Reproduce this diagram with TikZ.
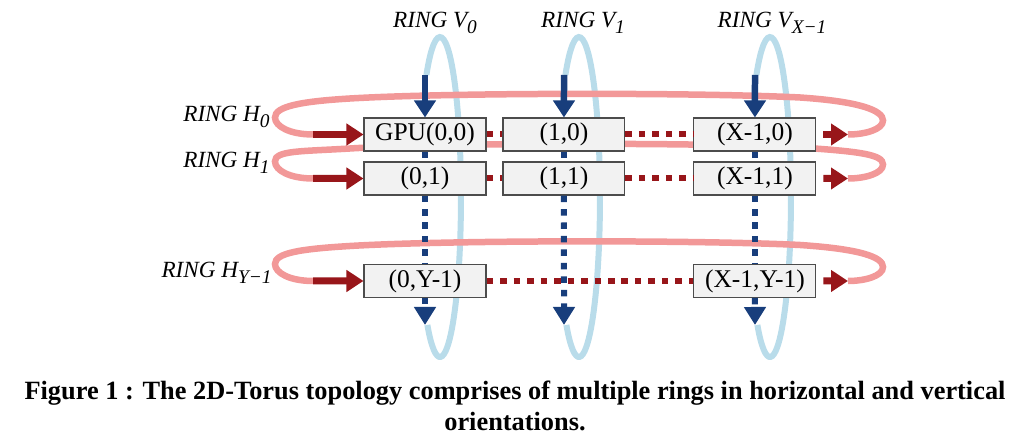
\documentclass[tikz,border=0pt]{standalone}
\usepackage{fontspec}
\setmainfont{Liberation Serif}
\usetikzlibrary{arrows.meta}
\definecolor{ringpink}{RGB}{242,152,152}
\definecolor{arrowred}{RGB}{152,22,26}
\definecolor{ringblue}{RGB}{185,220,234}
\definecolor{arrowblue}{RGB}{24,62,124}
\definecolor{boxgray}{RGB}{242,242,242}
\tikzstyle{gpubox} = [rectangle, minimum width=2.44cm, minimum height=0.66cm, inner sep=0pt, text centered, draw=black!70, line width=0.6pt, fill=boxgray, font=\fontsize{14.5}{17}\selectfont]
\tikzstyle{ringlabel} = [inner sep=0pt, font=\fontsize{13.2}{15}\selectfont\itshape]
\tikzstyle{hring} = [line width=0.13cm, draw=ringpink]
\tikzstyle{vring} = [line width=0.12cm, draw=ringblue]
\tikzstyle{redarrow} = [line width=0.14cm, arrowred, -{Triangle[length=0.34cm, width=0.42cm]}]
\tikzstyle{bluearrow} = [line width=0.13cm, arrowblue, -{Triangle[length=0.34cm, width=0.42cm]}]
\tikzstyle{reddots} = [line width=0.12cm, arrowred, dash pattern=on 0.13cm off 0.14cm]
\tikzstyle{bluedots} = [line width=0.12cm, arrowblue, dash pattern=on 0.13cm off 0.14cm]
\newcommand{\ringname}[2]{RING #1\raisebox{-3.2pt}{\fontsize{11}{13}\selectfont #2}}
% pink ring round one row: row height, height of its top
\newcommand{\hringdraw}[2]{\draw[hring] (313,#1) .. controls (290,#1) and (275,#1+8) .. (275,#1+17) .. controls (275,#1+28) and (300,#1+#2-9) .. (350,#1+#2-6) .. controls (450,#1+#2) and (700,#1+#2) .. (800,#1+#2-5) .. controls (860,#1+#2-9) and (883,#1+24) .. (883,#1+14) .. controls (883,#1+5) and (865,#1) .. (848,#1);}
% blue ring round one column
\newcommand{\vringdraw}[1]{\draw[vring] (#1+1.4,373) arc[start angle=130.3, end angle=-126.9, x radius=21, y radius=160];}
\begin{document}
\begin{tikzpicture}[x=0.02cm, y=0.02cm, node distance=2.78cm]
\useasboundingbox (0,0) rectangle (1024,448);

% rings
\vringdraw{425}
\vringdraw{564}
\vringdraw{755}
\hringdraw{313.5}{42}
\hringdraw{269.5}{36}
\hringdraw{167}{41}

% GPUs
\node (g00) [gpubox] at (425,313.5) {GPU(0,0)};
\node (g10) [gpubox, right of=g00] {(1,0)};
\node (g20) [gpubox, right of=g10, xshift=1.04cm] {(X-1,0)};
\node (g01) [gpubox, below of=g00, yshift=1.9cm] {(0,1)};
\node (g11) [gpubox, below of=g10, yshift=1.9cm] {(1,1)};
\node (g21) [gpubox, below of=g20, yshift=1.9cm] {(X-1,1)};
\node (g0y) [gpubox, below of=g00, yshift=-0.15cm] {(0,Y-1)};
\node (g2y) [gpubox, below of=g20, yshift=-0.15cm] {(X-1,Y-1)};

\coordinate (h0in) at (313,313.5); \coordinate (h0out) at (848,313.5);
\coordinate (h1in) at (313,269.5); \coordinate (h1out) at (848,269.5);
\coordinate (hyin) at (313,167);   \coordinate (hyout) at (848,167);
\coordinate (v0in) at (425,373);   \coordinate (v0out) at (425,123);
\coordinate (v1in) at (564,373);   \coordinate (v1out) at (564,123);
\coordinate (v2in) at (755,373);   \coordinate (v2out) at (755,123);

% labels
\node (lv0) [ringlabel] at (435,425) {\ringname{V}{0}};
\node (lv1) [ringlabel] at (583,425) {\ringname{V}{1}};
\node (lv2) [ringlabel] at (772,425) {\ringname{V}{X−1}};
\node (lh0) [ringlabel, anchor=east] at (270,331) {\ringname{H}{0}};
\node (lh1) [ringlabel, anchor=east] at (270,285) {\ringname{H}{1}};
\node (lhy) [ringlabel, anchor=east] at (272,175) {\ringname{H}{Y−1}};

% horizontal links
\draw [redarrow] (h0in) -- (g00);
\draw [reddots] (g00) -- (g10);
\draw [reddots] (g10) -- (g20);
\draw [redarrow, shorten <=0.14cm] (g20) -- (h0out);
\draw [redarrow] (h1in) -- (g01);
\draw [reddots] (g01) -- (g11);
\draw [reddots] (g11) -- (g21);
\draw [redarrow, shorten <=0.14cm] (g21) -- (h1out);
\draw [redarrow] (hyin) -- (g0y);
\draw [reddots] (g0y) -- (g2y);
\draw [redarrow, shorten <=0.14cm] (g2y) -- (hyout);

% vertical links
\draw [bluearrow] (v0in) -- (g00);
\draw [bluedots] (g00) -- (g01);
\draw [bluedots] (g01) -- (g0y);
\draw [bluedots, -{Triangle[length=0.36cm, width=0.42cm]}] (g0y) -- (v0out);
\draw [bluearrow] (v1in) -- (g10);
\draw [bluedots] (g10) -- (g11);
\draw [bluedots, -{Triangle[length=0.36cm, width=0.42cm]}] (g11) -- (v1out);
\draw [bluearrow] (v2in) -- (g20);
\draw [bluedots] (g20) -- (g21);
\draw [bluedots] (g21) -- (g2y);
\draw [bluedots, -{Triangle[length=0.36cm, width=0.42cm]}] (g2y) -- (v2out);

\node (caption) [font=\fontsize{15}{17.6}\selectfont\bfseries, align=center] at (515,42) {Figure 1 : The 2D-Torus topology comprises of multiple rings in horizontal and vertical\\orientations.};

\end{tikzpicture}
\end{document}
